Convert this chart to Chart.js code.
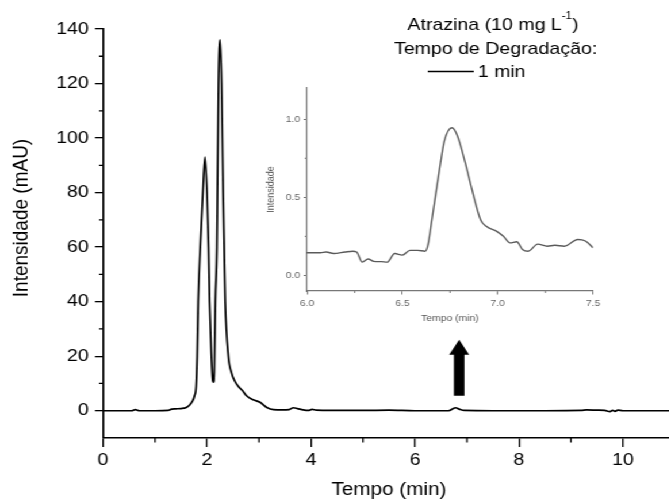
<!DOCTYPE html>
<html>
<head>
<meta charset="utf-8">
<script src="https://cdn.jsdelivr.net/npm/chart.js@4"></script>
<style>
  html, body { margin: 0; padding: 0; background: #fff; overflow: hidden; }
  /* the original figure is a bit wider than tall, so stretch the drawing horizontally */
  #wrap { position: absolute; left: 0; top: 0; width: 600px; height: 501px;
          transform: scaleX(1.15); transform-origin: 0 0; }
  #main { position: absolute; left: 0; top: 0; }
  #inset { position: absolute; left: 215px; top: 75px; }
</style>
</head>
<body>
<div id="wrap">
  <canvas id="main" width="600" height="501"></canvas>
  <canvas id="inset" width="320" height="260"></canvas>
</div>
<script>
// chromatogram, Atrazina 10 mg/L, 1 min degradation
const tempo = [0, 0.3, 0.55, 0.62, 0.7, 1.0, 1.25, 1.32, 1.4, 1.5, 1.6, 1.67, 1.72, 1.76, 1.79,
  1.81, 1.83, 1.87, 1.92, 1.96, 2.0, 2.03, 2.05, 2.08, 2.11, 2.125, 2.14, 2.16, 2.19, 2.2,
  2.21, 2.22, 2.25, 2.28, 2.295, 2.31, 2.33, 2.35, 2.41, 2.47, 2.53, 2.6, 2.68, 2.76, 2.89,
  3.02, 3.15, 3.28, 3.45, 3.58, 3.66, 3.74, 3.85, 3.95, 4.02, 4.1, 4.4, 5.0, 5.5, 6.0,
  6.65, 6.72, 6.78, 6.85, 6.95, 7.5, 8.5, 9.2, 9.3, 9.5, 9.65, 9.75, 9.8, 9.85, 9.9,
  10.0, 10.5, 11];
const intensidade = [0, 0, 0, 0.4, 0, 0, 0.1, 0.6, 0.7, 0.8, 1.2, 2.2, 3.5, 5.5, 9,
  20, 40, 60, 80, 93, 80, 60, 40, 22, 11, 10.5, 14, 40, 60, 80,
  100, 120, 136, 120, 100, 80, 60, 40, 20, 14, 11, 9, 7.4, 5.5, 4.0,
  3.1, 1.2, 0.4, 0.3, 0.4, 1.1, 0.8, 0.3, 0.1, 0.5, 0.2, 0.1, 0.1, 0.2, 0,
  0, 0.6, 1.1, 0.6, 0.1, 0, 0, 0.1, 0.3, 0.2, 0.1, -0.3, 0.1, -0.2, 0.2,
  0, 0, 0];

// zoomed peak (inset)
const tempoZoom = [6.00, 6.07, 6.10, 6.14, 6.20, 6.24, 6.26, 6.29, 6.32, 6.35, 6.39, 6.42,
  6.46, 6.50, 6.54, 6.58, 6.62, 6.635, 6.655, 6.70, 6.72, 6.76, 6.79, 6.83, 6.865, 6.91,
  6.94, 6.995, 7.03, 7.065, 7.10, 7.13, 7.16, 7.21, 7.26, 7.30, 7.35, 7.42, 7.46, 7.50];
const intensidadeZoom = [0.145, 0.145, 0.15, 0.14, 0.15, 0.155, 0.15, 0.085, 0.105, 0.09, 0.088, 0.085,
  0.14, 0.13, 0.16, 0.16, 0.155, 0.2, 0.357, 0.72, 0.86, 0.945, 0.89, 0.72, 0.55, 0.357,
  0.314, 0.282, 0.25, 0.208, 0.215, 0.166, 0.155, 0.20, 0.187, 0.193, 0.187, 0.23, 0.22, 0.177];

// tick values
const mainXTicks = [0, 2, 4, 6, 8, 10];
const mainXMinor = [1, 3, 5, 7, 9, 11];
const mainYTicks = [0, 20, 40, 60, 80, 100, 120, 140];
const mainYMinor = [10, 30, 50, 70, 90, 110, 130];
const zoomXTicks = [6.0, 6.5, 7.0, 7.5];
const zoomXMinor = [6.25, 6.75, 7.25];
const zoomYTicks = [0.0, 0.5, 1.0];
const zoomYMinor = [0.25, 0.75];

const FONT = '"Liberation Sans", Arial, sans-serif';
Chart.defaults.font.family = FONT;

// small ticks between the labelled ones
const minorTicks = {
  id: 'minorTicks',
  afterDraw(chart, args, opts) {
    const { ctx, chartArea, scales: { x, y } } = chart;
    ctx.save();
    ctx.strokeStyle = opts.color;
    ctx.lineWidth = opts.width;
    ctx.beginPath();
    opts.x.forEach(v => {
      const px = x.getPixelForValue(v);
      if (px > chartArea.right + 1) return;
      ctx.moveTo(px, chartArea.bottom);
      ctx.lineTo(px, chartArea.bottom + opts.xLen);
    });
    opts.y.forEach(v => {
      const py = y.getPixelForValue(v);
      ctx.moveTo(chartArea.left, py);
      ctx.lineTo(chartArea.left - opts.yLen, py);
    });
    ctx.stroke();
    ctx.restore();
  }
};

// y title, arrow under the small peak, and the legend text block
const notes = {
  id: 'notes',
  afterDraw(chart) {
    const { ctx, scales: { x, y } } = chart;
    ctx.save();

    ctx.save();
    ctx.translate(23.5, 218);
    ctx.rotate(-Math.PI / 2);
    ctx.font = '19px ' + FONT;
    ctx.fillStyle = '#000';
    ctx.textAlign = 'center';
    ctx.textBaseline = 'alphabetic';
    ctx.fillText('Intensidade (mAU)', 0, 0);
    ctx.restore();

    const ax = x.getPixelForValue(6.85);
    const tip = y.getPixelForValue(26);
    const base = y.getPixelForValue(5.5);
    const headH = 15, headW = 8.7, shaftW = 4.6;
    ctx.fillStyle = '#000';
    ctx.beginPath();
    ctx.moveTo(ax, tip);
    ctx.lineTo(ax + headW, tip + headH);
    ctx.lineTo(ax + shaftW, tip + headH);
    ctx.lineTo(ax + shaftW, base);
    ctx.lineTo(ax - shaftW, base);
    ctx.lineTo(ax - shaftW, tip + headH);
    ctx.lineTo(ax - headW, tip + headH);
    ctx.closePath();
    ctx.fill();

    ctx.textBaseline = 'alphabetic';
    ctx.textAlign = 'left';
    const big = '17px ' + FONT, small = '10px ' + FONT;
    ctx.font = big;
    const t1 = 'Atrazina (10 mg L', t3 = ')';
    const w1 = ctx.measureText(t1).width, w3 = ctx.measureText(t3).width;
    ctx.font = small;
    const w2 = ctx.measureText('-1').width;
    let sx = 428.7 - (w1 + w2 + w3) / 2;
    ctx.font = big;
    ctx.fillText(t1, sx, 30);
    ctx.font = small;
    ctx.fillText('-1', sx + w1, 19);
    ctx.font = big;
    ctx.fillText(t3, sx + w1 + w2, 30);

    ctx.textAlign = 'center';
    ctx.fillText('Tempo de Degradação:', 431, 53.5);

    ctx.strokeStyle = '#000';
    ctx.lineWidth = 1.6;
    ctx.beginPath();
    ctx.moveTo(372, 71.5);
    ctx.lineTo(412, 71.5);
    ctx.stroke();
    ctx.textAlign = 'left';
    ctx.fillText('1 min', 415.5, 77);
    ctx.restore();
  }
};

new Chart(document.getElementById('main'), {
  type: 'scatter',
  data: {
    datasets: [{
      data: tempo.map((t, i) => ({ x: t, y: intensidade[i] })),
      showLine: true,
      borderColor: '#000',
      borderWidth: 1.7,
      pointRadius: 0,
      cubicInterpolationMode: 'monotone'
    }]
  },
  options: {
    responsive: false,
    animation: false,
    devicePixelRatio: 1,
    layout: { padding: { top: 29, right: 13.1, bottom: 0, left: 0 } },
    plugins: {
      legend: { display: false },
      tooltip: { enabled: false },
      minorTicks: { x: mainXMinor, y: mainYMinor, xLen: 4.5, yLen: 3.5, color: '#000', width: 1.3 }
    },
    scales: {
      x: {
        type: 'linear', min: 0, max: 11,
        afterBuildTicks: a => { a.ticks = mainXTicks.map(v => ({ value: v })); },
        afterFit: s => { s.height = 63; },
        grid: { drawOnChartArea: false, color: '#000', lineWidth: 1.3, tickLength: 9 },
        border: { color: '#000', width: 1.6 },
        ticks: { color: '#000', padding: 3, maxRotation: 0, font: { size: 17 } },
        title: { display: true, text: 'Tempo (min)', color: '#000', font: { size: 18 }, padding: { top: 0, bottom: 0 } }
      },
      y: {
        type: 'linear', min: -10, max: 140,
        afterBuildTicks: a => { a.ticks = mainYTicks.map(v => ({ value: v })); },
        afterFit: s => { s.width = 89.6; },
        grid: { drawOnChartArea: false, color: '#000', lineWidth: 1.3, tickLength: 7 },
        border: { color: '#000', width: 1.6 },
        ticks: { color: '#000', padding: 5.5, font: { size: 17 } },
        title: { display: false }
      }
    }
  },
  plugins: [minorTicks, notes]
});

new Chart(document.getElementById('inset'), {
  type: 'scatter',
  data: {
    datasets: [{
      data: tempoZoom.map((t, i) => ({ x: t, y: intensidadeZoom[i] })),
      showLine: true,
      borderColor: '#5a5a5a',
      borderWidth: 1.4,
      pointRadius: 0,
      cubicInterpolationMode: 'monotone'
    }]
  },
  options: {
    responsive: false,
    animation: false,
    devicePixelRatio: 1,
    layout: { padding: { top: 13, right: 19.3, bottom: 0, left: 0 } },
    plugins: {
      legend: { display: false },
      tooltip: { enabled: false },
      minorTicks: { x: zoomXMinor, y: zoomYMinor, xLen: 2, yLen: 2, color: '#777', width: 1 }
    },
    scales: {
      x: {
        type: 'linear', min: 6, max: 7.5,
        afterBuildTicks: a => { a.ticks = zoomXTicks.map(v => ({ value: v })); },
        afterFit: s => { s.height = 44; },
        grid: { drawOnChartArea: false, color: '#777', lineWidth: 1, tickLength: 3.5 },
        border: { color: '#777', width: 1.2 },
        ticks: { color: '#666', padding: 4, maxRotation: 0, font: { size: 9 }, callback: v => v.toFixed(1) },
        title: { display: true, text: 'Tempo (min)', color: '#555', font: { size: 9 }, padding: { top: 0, bottom: 11 } }
      },
      y: {
        type: 'linear', min: -0.1, max: 1.2,
        afterBuildTicks: a => { a.ticks = zoomYTicks.map(v => ({ value: v })); },
        afterFit: s => { s.width = 52; },
        grid: { drawOnChartArea: false, color: '#777', lineWidth: 1, tickLength: 3 },
        border: { color: '#777', width: 1.2 },
        ticks: { color: '#666', padding: 3, font: { size: 9 }, callback: v => v.toFixed(1) },
        title: { display: true, text: 'Intensidade', color: '#555', font: { size: 9 }, padding: { top: 15, bottom: 0 } }
      }
    }
  },
  plugins: [minorTicks]
});
</script>
</body>
</html>
